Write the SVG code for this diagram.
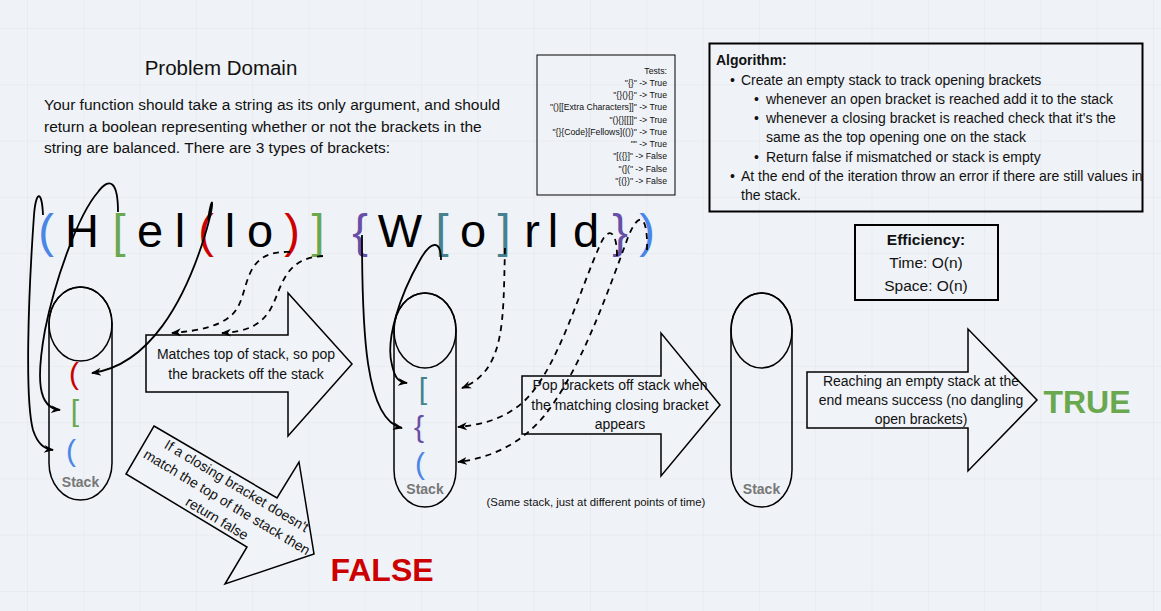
<svg xmlns="http://www.w3.org/2000/svg" width="1161" height="611" viewBox="0 0 1161 611">
<defs>
<pattern id="grid" patternUnits="userSpaceOnUse" x="27" y="28" width="56.3" height="56.3">
<path d="M0,0 H56.3 M0,0 V56.3" fill="none" stroke="#e1e5ea" stroke-width="1"/>
</pattern>
<marker id="ah" viewBox="0 0 10 10" refX="9" refY="5" markerWidth="10" markerHeight="10" markerUnits="userSpaceOnUse" orient="auto">
<path d="M0,1 L10,5 L0,9 L3,5 Z" fill="#000"/>
</marker>
<style>
text{font-family:"Liberation Sans",Arial,sans-serif;fill:#111;}
.big{font-size:47px;text-anchor:middle;fill:#000;}
.sb{font-size:30px;text-anchor:middle;}
.blue{fill:#4a86e8;}
.green{fill:#6aa84f;}
.red{fill:#cc0000;}
.purple{fill:#674ea7;}
.teal{fill:#45818e;}
.lbl{font-size:14px;text-anchor:middle;}
.stk{fill:none;stroke:#000;stroke-width:1.5;}
.stlab{font-size:14px;font-weight:bold;fill:#777;text-anchor:middle;}
.solid{fill:none;stroke:#000;stroke-width:1.8;marker-end:url(#ah);}
.dash{fill:none;stroke:#000;stroke-width:1.8;stroke-dasharray:6,5;marker-end:url(#ah);}
.arrow{fill:#f0f3f7;stroke:#000;stroke-width:1.5;}
.tests{font-size:8.7px;text-anchor:end;}
.alg{font-size:14px;}
</style>
</defs>
<rect width="1161" height="611" fill="#eff2f6"/>
<rect width="1161" height="611" fill="url(#grid)"/>

<g id="problem-domain">
<text x="221" y="75" style="font-size:20.5px;text-anchor:middle">Problem Domain</text>
<text x="44" y="110" style="font-size:15.5px">Your function should take a string as its only argument, and should</text>
<text x="44" y="132" style="font-size:15.5px">return a boolean representing whether or not the brackets in the</text>
<text x="44" y="153" style="font-size:15.5px">string are balanced. There are 3 types of brackets:</text>
</g>

<g id="tests">
<rect x="537" y="55" width="138" height="140" fill="none" stroke="#000" stroke-width="1"/>
<text class="tests" x="667" y="74">Tests:</text>
<text class="tests" x="667" y="86">"{}" -&gt; True</text>
<text class="tests" x="667" y="98">"{}(){}" -&gt; True</text>
<text class="tests" x="667" y="110">"()[[Extra Characters]]" -&gt; True</text>
<text class="tests" x="667" y="123">"(){}[[]]" -&gt; True</text>
<text class="tests" x="667" y="135">"{}{Code}[Fellows](())" -&gt; True</text>
<text class="tests" x="667" y="147">"" -&gt; True</text>
<text class="tests" x="667" y="159">"[({}]"  -&gt; False</text>
<text class="tests" x="667" y="172">"(](" -&gt; False</text>
<text class="tests" x="667" y="184">"{(})" -&gt; False</text>
</g>

<g id="algorithm">
<rect x="709.5" y="43.5" width="433" height="168" fill="none" stroke="#000" stroke-width="2"/>
<text class="alg" x="716" y="65" style="font-weight:bold">Algorithm:</text>
<text class="alg" x="730" y="85">•</text><text class="alg" x="741" y="85">Create an empty stack to track opening brackets</text>
<text class="alg" x="754" y="104">•</text><text class="alg" x="766" y="104">whenever an open bracket is reached add it to the stack</text>
<text class="alg" x="754" y="123">•</text><text class="alg" x="766" y="123">whenever a closing bracket is reached check that it's the</text>
<text class="alg" x="766" y="142">same as the top opening one on the stack</text>
<text class="alg" x="754" y="162">•</text><text class="alg" x="766" y="162">Return false if mismatched or stack is empty</text>
<text class="alg" x="730" y="181">•</text><text class="alg" x="741" y="181">At the end of the iteration throw an error if there are still values in</text>
<text class="alg" x="741" y="200">the stack.</text>
</g>

<g id="efficiency">
<rect x="855" y="225" width="143" height="75" fill="none" stroke="#000" stroke-width="2"/>
<text x="926" y="245" style="font-size:15.5px;font-weight:bold;text-anchor:middle">Efficiency:</text>
<text x="926" y="268" style="font-size:15.5px;text-anchor:middle">Time: O(n)</text>
<text x="926" y="291" style="font-size:15.5px;text-anchor:middle">Space: O(n)</text>
</g>

<g id="input-string">
<text class="big blue" x="46" y="247">(</text>
<text class="big" x="82" y="247">H</text>
<text class="big green" x="119" y="247">[</text>
<text class="big" x="150" y="247">e</text>
<text class="big" x="180" y="247">l</text>
<text class="big red" x="206" y="247">(</text>
<text class="big" x="230" y="247">l</text>
<text class="big" x="260" y="247">o</text>
<text class="big red" x="292" y="247">)</text>
<text class="big green" x="318" y="247">]</text>
<text class="big purple" x="360" y="247">{</text>
<text class="big" x="400" y="247">W</text>
<text class="big teal" x="442" y="247">[</text>
<text class="big" x="473" y="247">o</text>
<text class="big teal" x="504" y="247">]</text>
<text class="big" x="532" y="247">r</text>
<text class="big" x="553" y="247">l</text>
<text class="big" x="586" y="247">d</text>
<text class="big purple" x="620" y="247">}</text>
<text class="big blue" x="647" y="247">)</text>
</g>

<g id="stack1">
<rect class="stk" x="49" y="287" width="63" height="213" rx="31.5" ry="37"/>
<ellipse class="stk" cx="80.5" cy="324" rx="31.5" ry="37"/>
<text class="sb red" x="74" y="384">(</text>
<text class="sb green" x="75" y="421">[</text>
<text class="sb blue" x="71" y="461">(</text>
<text class="stlab" x="80.5" y="487">Stack</text>
</g>

<g id="stack2">
<rect class="stk" x="394" y="293" width="62" height="214" rx="31" ry="37"/>
<ellipse class="stk" cx="425" cy="330.5" rx="31" ry="37.5"/>
<text class="sb teal" x="423" y="399">[</text>
<text class="sb purple" x="419" y="437">{</text>
<text class="sb blue" x="420" y="474">(</text>
<text class="stlab" x="425" y="494">Stack</text>
</g>

<g id="stack3">
<rect class="stk" x="731" y="293" width="61" height="214" rx="30.5" ry="37"/>
<ellipse class="stk" cx="761.5" cy="330.5" rx="30.5" ry="37.5"/>
<text class="stlab" x="761.5" y="494">Stack</text>
</g>

<g id="arrow-matches">
<polygon class="arrow" points="146,335 288,335 288,293 352,364 288,436 288,392 146,392"/>
<text class="lbl" x="246" y="359">Matches top of stack, so pop</text>
<text class="lbl" x="246" y="379">the brackets off the stack</text>
</g>

<g id="arrow-pop">
<polygon class="arrow" points="522,376 661,376 661,333 720,405 661,476 661,434 522,434"/>
<text class="lbl" x="620" y="390">Pop brackets off stack when</text>
<text class="lbl" x="620" y="410">the matching closing bracket</text>
<text class="lbl" x="620" y="429">appears</text>
</g>

<g id="arrow-success">
<polygon class="arrow" points="807,372 968,372 968,329 1037,400 968,471 968,428 807,428"/>
<text class="lbl" x="921" y="386">Reaching an empty stack at the</text>
<text class="lbl" x="921" y="405">end means success (no dangling</text>
<text class="lbl" x="921" y="424">open brackets)</text>
</g>

<g id="arrow-false">
<polygon class="arrow" points="154,426 277,498 299,462 314,554 225,584 247,547 126,474"/>
<g transform="translate(227,502) rotate(31)">
<text class="lbl" x="0" y="-14">If a closing bracket doesn't</text>
<text class="lbl" x="0" y="5">match the top of the stack then</text>
<text class="lbl" x="0" y="24">return false</text>
</g>
</g>

<g id="results">
<text x="382" y="581" style="font-size:32px;font-weight:bold;fill:#cc0000;text-anchor:middle">FALSE</text>
<text x="1087" y="413" style="font-size:32px;font-weight:bold;fill:#6aa84f;text-anchor:middle">TRUE</text>
<text x="596" y="506" style="font-size:11.4px;text-anchor:middle">(Same stack, just at different points of time)</text>
</g>

<g id="connectors">
<path class="solid" d="M43,215 C42,190 36,190 34,215 C28,300 25,400 33,430 C38,445 45,449 53,450"/>
<path class="solid" d="M118,212 C118,182 110,176 98,192 C78,215 55,280 45,330 C36,380 38,408 60,410"/>
<path class="solid" d="M208,220 C212,192 216,198 205,235 C185,300 150,365 92,373"/>
<path class="dash" d="M290,252 C242,250 250,290 236,310 C226,325 200,331 172,333"/>
<path class="dash" d="M323,256 C282,258 282,290 270,310 C261,325 246,332 222,333"/>
<path class="solid" d="M362,235 C362,330 365,420 402,428"/>
<path class="solid" d="M441,260 C441,238 430,242 420,260 C400,295 385,340 392,365 C395,378 398,382 407,383"/>
<path class="dash" d="M505,248 C503,320 506,370 462,388"/>
<path class="dash" d="M617,256 C617,230 608,226 600,245 C580,290 560,360 530,395 C510,418 482,425 458,427"/>
<path class="dash" d="M647,250 C648,213 638,210 627,240 C605,300 580,370 545,415 C520,445 490,458 458,462"/>
</g>
</svg>
